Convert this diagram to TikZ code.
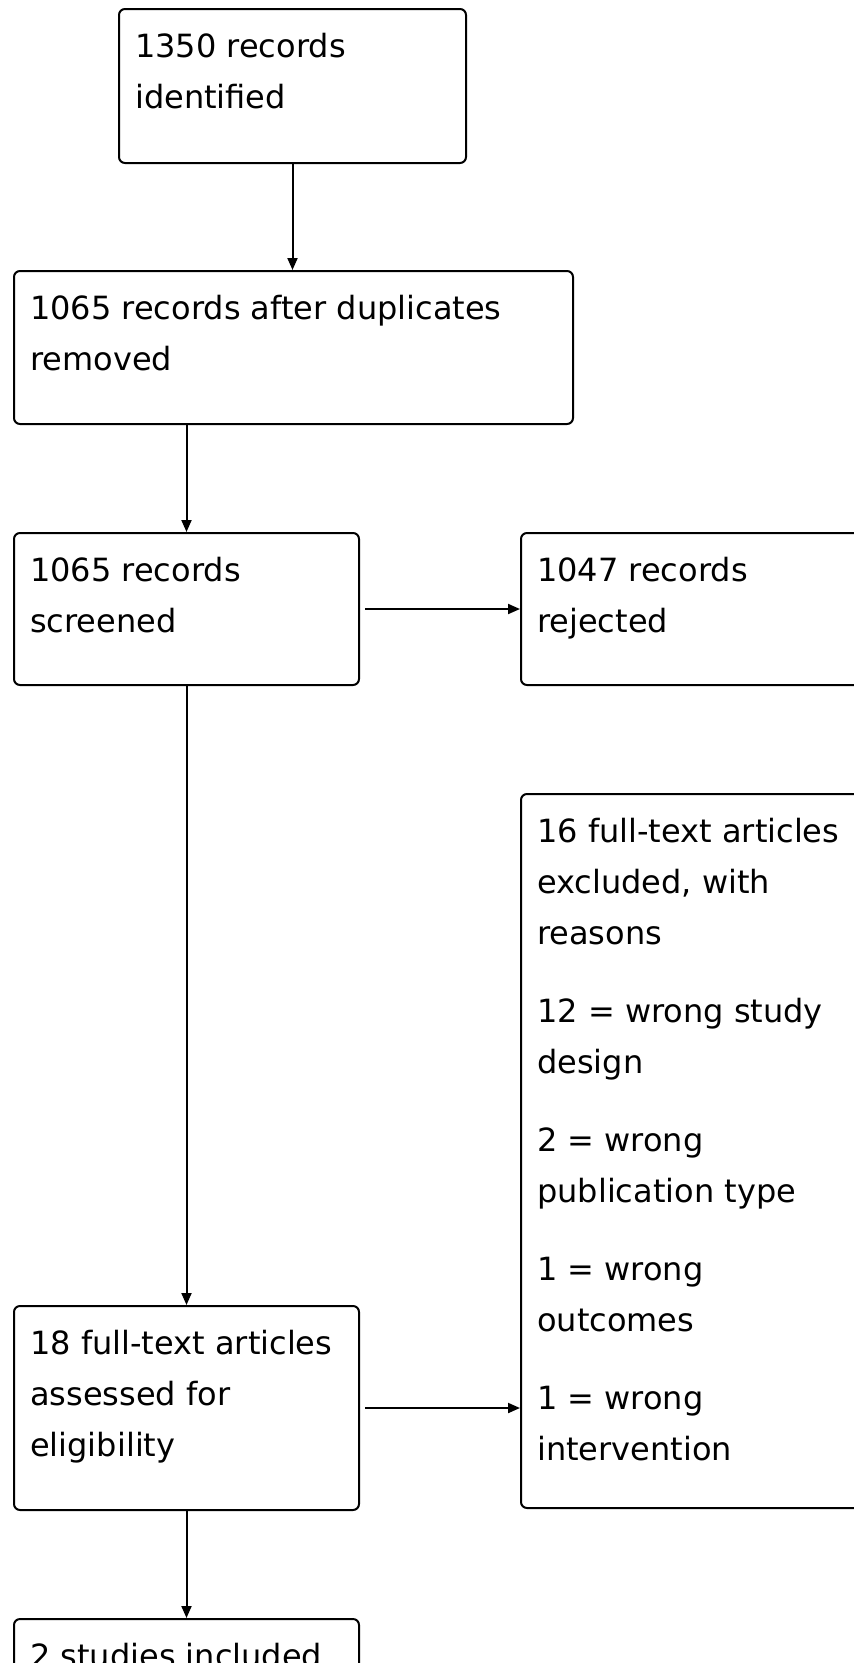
\documentclass[tikz,border=0pt]{standalone}
\usepackage{fontspec}
\setmainfont{DejaVu Sans}
\usetikzlibrary{arrows.meta}
\begin{document}
\begin{tikzpicture}[x=1pt,y=-1pt,
  box/.style={draw, line width=2pt, rectangle, rounded corners=6pt, inner sep=0pt, anchor=north west},
  txt/.style={anchor=north west, align=left, inner sep=0pt, font=\fontsize{32}{51}\selectfont},
  arr/.style={line width=2pt, -{Triangle[length=12pt,width=10pt]}}]
\useasboundingbox (0,0) rectangle (854,1663);
\clip (0,0) rectangle (854,1663);
\node[box, minimum width=347pt, minimum height=154pt] (b1) at (118,8) {};
\node[box, minimum width=559pt, minimum height=153pt] (b2) at (13,270) {};
\node[box, minimum width=345pt, minimum height=152pt] (b3) at (13,532) {};
\node[box, minimum width=360pt, minimum height=152pt] (b4) at (520,532) {};
\node[box, minimum width=360pt, minimum height=714pt] (b5) at (520,793) {};
\node[box, minimum width=345pt, minimum height=204pt] (b6) at (13,1305) {};
\node[box, minimum width=345pt, minimum height=150pt] (b7) at (13,1618) {};
\node[txt] (t1) at (135,22) {\strut 1350 records\\identified};
\node[txt] (t2) at (30,284) {\strut 1065 records after duplicates\\removed};
\node[txt] (t3) at (30,546) {\strut 1065 records\\screened};
\node[txt] (t4) at (537,546) {\strut 1047 records\\rejected};
\node[txt] (t5) at (537,807) {\strut 16 full-text articles\\excluded, with\\reasons\\[27pt]12 = wrong study\\design\\[27pt]2 = wrong\\publication type\\[27pt]1 = wrong\\outcomes\\[27pt]1 = wrong\\intervention};
\node[txt] (t6) at (30,1319) {\strut 18 full-text articles\\assessed for\\eligibility};
\node[txt] (t7) at (30,1632) {\strut 2 studies included};
\draw[arr] (b1.south) -- (b1.south |- b2.north);
\draw[arr] (b3.north |- b2.south) -- (b3.north);
\draw[arr] (b3.south) -- (b6.north);
\draw[arr] (b6.south) -- (b7.north);
\draw[arr, shorten <=5pt] (b3.east) -- (b3.east -| b4.west);
\draw[arr, shorten <=5pt] (b6.east) -- (b6.east -| b5.west);
\end{tikzpicture}
\end{document}
